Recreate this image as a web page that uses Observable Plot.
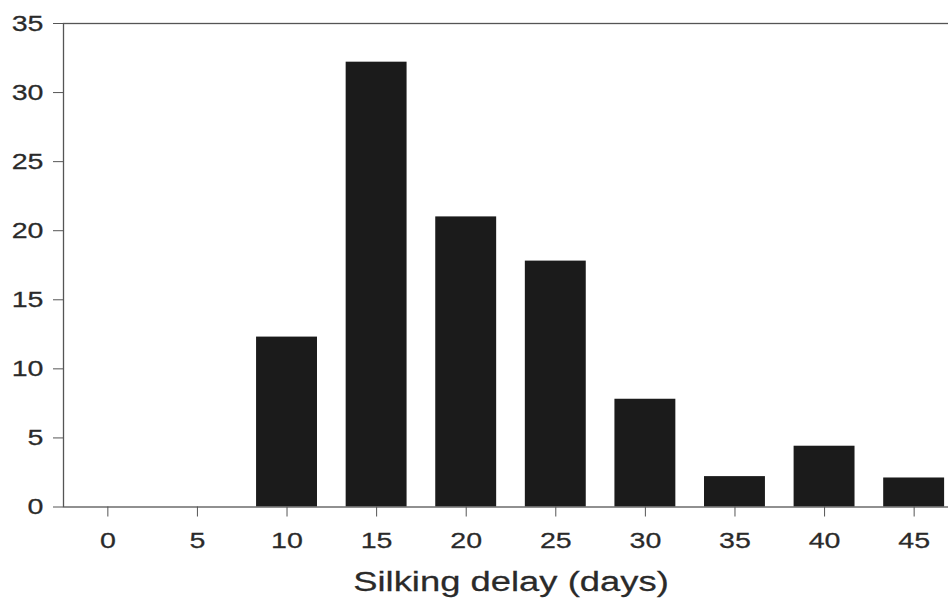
<!DOCTYPE html>
<html>
<head>
<meta charset="utf-8">
<script src="https://cdn.jsdelivr.net/npm/d3@7"></script>
<script src="https://cdn.jsdelivr.net/npm/@observablehq/plot@0.6"></script>
<style>
  body { margin: 0; background: #fff; }
  #chart svg { font-family: "Liberation Sans", Arial, Helvetica, sans-serif; }
  #chart svg text { stroke: #2a2a2a; stroke-width: 0.25px; paint-order: stroke; }
</style>
</head>
<body>
<div id="chart"></div>
<script>
// Silking delay classes (days) and share of plants in each class (%)
const delays = [0, 5, 10, 15, 20, 25, 30, 35, 40, 45];
const percent = [0, 0, 12.3, 32.2, 21.0, 17.8, 7.8, 2.2, 4.4, 2.1];
const yTicks = [0, 5, 10, 15, 20, 25, 30, 35];
const xTitle = "Silking delay (days)";

const data = delays.map((d, i) => ({delay: d, value: percent[i]}));

const ink = "#2a2a2a";
const rule = "#555";

const chart = Plot.plot({
  width: 948,
  height: 598,
  marginLeft: 63,
  marginRight: -10,
  marginTop: 23,
  marginBottom: 91.5,
  style: {background: "#fff", color: ink},
  x: {type: "band", domain: delays, paddingInner: 0.32, paddingOuter: 0.155, round: false},
  y: {domain: [0, 35]},
  marks: [
    Plot.barY(data, {x: "delay", y: "value", fill: "#1b1b1b"}),
    Plot.frame({stroke: rule, strokeWidth: 1.3}),
    Plot.axisY({
      ticks: yTicks, tickSize: 10, tickPadding: 10, label: null,
      fontSize: 22, stroke: rule
    }),
    Plot.axisX({
      tickSize: 10, tickPadding: 15.5, label: null,
      fontSize: 22, stroke: rule
    }),
    Plot.text([xTitle], {
      frameAnchor: "bottom", dy: 84, fontSize: 28, fill: ink
    })
  ]
});

document.getElementById("chart").append(chart);

// Widen the lettering horizontally about each label's anchor point
const stretch = 1.3;
chart.querySelectorAll("text").forEach((t) => {
  const b = t.getBBox();
  const anchor = getComputedStyle(t).textAnchor;
  const cx = anchor === "end" ? b.x + b.width : anchor === "start" ? b.x : b.x + b.width / 2;
  const base = t.getAttribute("transform") || "";
  t.setAttribute("transform", `${base} translate(${cx},0) scale(${stretch},1) translate(${-cx},0)`.trim());
});
</script>
</body>
</html>
